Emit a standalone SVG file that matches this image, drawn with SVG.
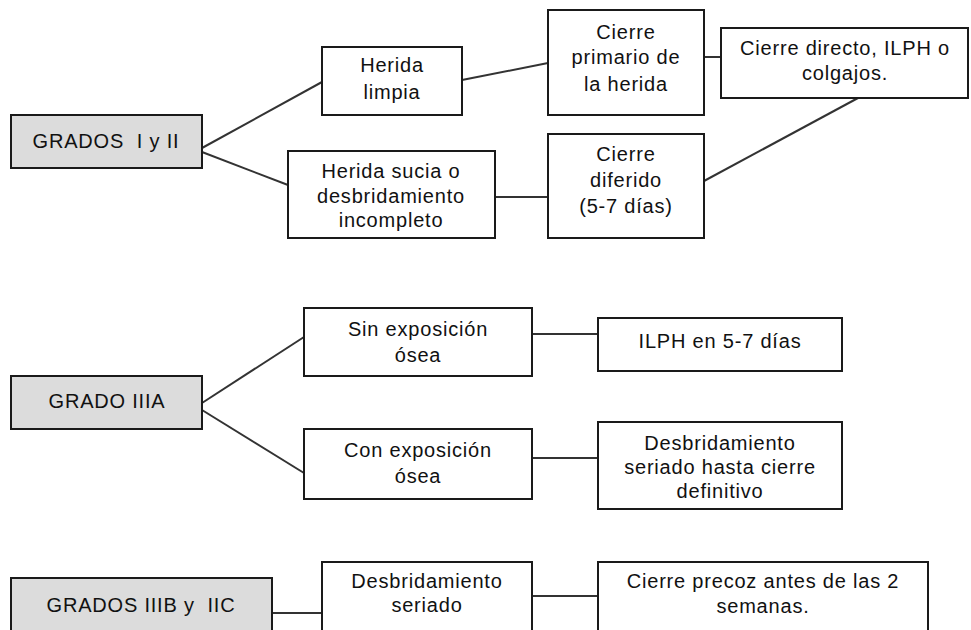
<svg xmlns="http://www.w3.org/2000/svg" width="971" height="630" viewBox="0 0 971 630">
<style>
.box{fill:#ffffff;stroke:#1a1a1a;stroke-width:2}
.grade{fill:#dcdcdc;stroke:#1a1a1a;stroke-width:2}
.t{font-family:"Liberation Sans",Arial,sans-serif;font-size:20px;fill:#111;text-anchor:middle;letter-spacing:0.8px}
.c{stroke:#333;stroke-width:2;fill:none}
</style>
<rect width="971" height="630" fill="#ffffff"/>
<g id="connectors">
<line class="c" x1="202" y1="148" x2="322" y2="82"/>
<line class="c" x1="202" y1="152" x2="288" y2="185"/>
<line class="c" x1="462" y1="80" x2="548" y2="63"/>
<line class="c" x1="495" y1="197" x2="548" y2="197"/>
<line class="c" x1="704" y1="57" x2="721" y2="57"/>
<line class="c" x1="704" y1="181" x2="858" y2="98"/>
<line class="c" x1="202" y1="403" x2="304" y2="337"/>
<line class="c" x1="202" y1="410" x2="304" y2="473"/>
<line class="c" x1="532" y1="334" x2="598" y2="334"/>
<line class="c" x1="532" y1="458" x2="598" y2="458"/>
<line class="c" x1="272" y1="613" x2="322" y2="613"/>
<line class="c" x1="532" y1="596" x2="598" y2="596"/>
</g>
<g id="grados-i-ii">
<rect class="grade" x="11" y="115" width="191" height="53"/>
<text class="t" x="106" y="148" xml:space="preserve">GRADOS  I y II</text>
</g>
<g id="herida-limpia">
<rect class="box" x="322" y="47" width="140" height="68"/>
<text class="t" x="392" y="72">Herida</text>
<text class="t" x="392" y="99">limpia</text>
</g>
<g id="herida-sucia">
<rect class="box" x="288" y="151" width="207" height="87"/>
<text class="t" x="391" y="178">Herida sucia o</text>
<text class="t" x="391" y="203">desbridamiento</text>
<text class="t" x="391" y="227">incompleto</text>
</g>
<g id="cierre-primario">
<rect class="box" x="548" y="10" width="156" height="105"/>
<text class="t" x="626" y="39">Cierre</text>
<text class="t" x="626" y="64">primario de</text>
<text class="t" x="626" y="91">la herida</text>
</g>
<g id="cierre-directo">
<rect class="box" x="721" y="28" width="247" height="70"/>
<text class="t" x="845" y="55">Cierre directo, ILPH o</text>
<text class="t" x="845" y="80">colgajos.</text>
</g>
<g id="cierre-diferido">
<rect class="box" x="548" y="134" width="156" height="104"/>
<text class="t" x="626" y="161">Cierre</text>
<text class="t" x="626" y="187">diferido</text>
<text class="t" x="626" y="213">(5-7 días)</text>
</g>
<g id="grado-iiia">
<rect class="grade" x="11" y="376" width="191" height="53"/>
<text class="t" x="107" y="408">GRADO IIIA</text>
</g>
<g id="sin-exposicion">
<rect class="box" x="304" y="308" width="228" height="68"/>
<text class="t" x="418" y="336">Sin exposición</text>
<text class="t" x="418" y="362">ósea</text>
</g>
<g id="con-exposicion">
<rect class="box" x="304" y="429" width="228" height="70"/>
<text class="t" x="418" y="457">Con exposición</text>
<text class="t" x="418" y="483">ósea</text>
</g>
<g id="ilph">
<rect class="box" x="598" y="318" width="244" height="53"/>
<text class="t" x="720" y="348">ILPH en 5-7 días</text>
</g>
<g id="desbridamiento-hasta-cierre">
<rect class="box" x="598" y="422" width="244" height="87"/>
<text class="t" x="720" y="450">Desbridamiento</text>
<text class="t" x="720" y="474">seriado hasta cierre</text>
<text class="t" x="720" y="498">definitivo</text>
</g>
<g id="grados-iiib-iiic">
<rect class="grade" x="11" y="578" width="261" height="62"/>
<text class="t" x="141" y="612" xml:space="preserve">GRADOS IIIB y  IIC</text>
</g>
<g id="desbridamiento-seriado">
<rect class="box" x="322" y="562" width="210" height="80"/>
<text class="t" x="427" y="588">Desbridamiento</text>
<text class="t" x="427" y="612">seriado</text>
</g>
<g id="cierre-precoz">
<rect class="box" x="598" y="562" width="330" height="80"/>
<text class="t" x="763" y="588">Cierre precoz antes de las 2</text>
<text class="t" x="763" y="613">semanas.</text>
</g>
</svg>
